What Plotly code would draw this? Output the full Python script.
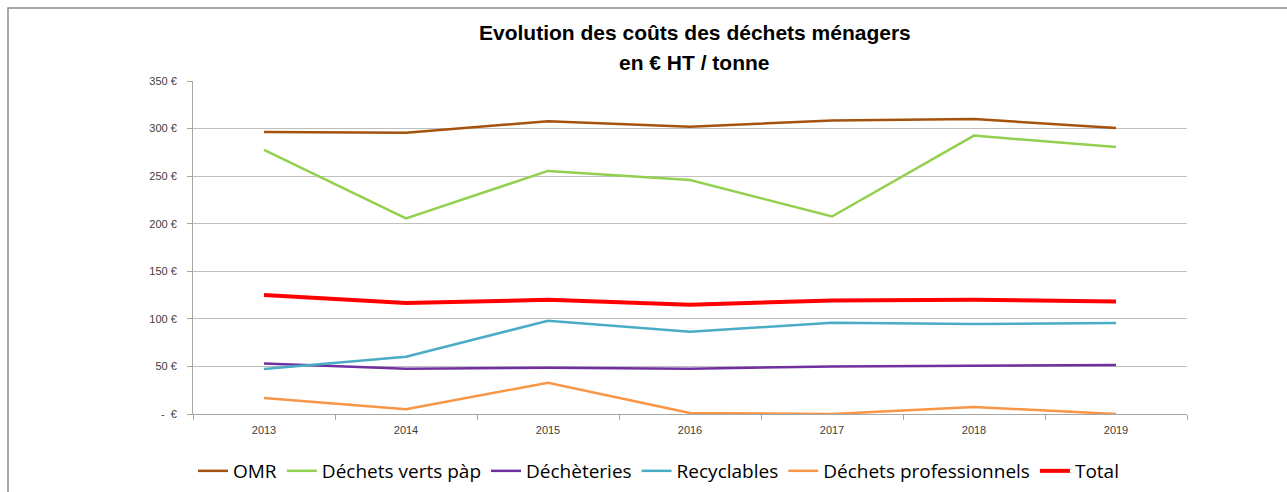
import plotly.graph_objects as go

# Années et coûts par filière (€ HT / tonne)
annees = ["2013", "2014", "2015", "2016", "2017", "2018", "2019"]
omr = [296.5, 295.5, 307.8, 302, 308.4, 310, 300.5]
dechets_verts = [277.6, 205.5, 255.5, 246, 207.6, 292.6, 280.5]
decheteries = [53.2, 47.6, 48.6, 47.6, 50, 50.7, 51.5]
recyclables = [47.3, 60.2, 98, 86.4, 95.9, 94.5, 95.6]
dechets_pro = [16.8, 4.9, 32.9, 1, 0, 7.4, 0]
total = [125, 116.6, 120, 114.8, 119.3, 120, 118.3]

y_ticks = [0, 50, 100, 150, 200, 250, 300, 350]
y_labels = ["-  €", "50 €", "100 €", "150 €", "200 €", "250 €", "300 €", "350 €"]

series = [
    ("OMR", omr, "#A5520F", 2.5),
    ("Déchets verts pàp", dechets_verts, "#92D050", 2.5),
    ("Déchèteries", decheteries, "#7030A0", 2.5),
    ("Recyclables", recyclables, "#4BACC6", 2.5),
    ("Déchets professionnels", dechets_pro, "#F79646", 2.5),
    ("Total", total, "#FF0000", 4),
]

fig = go.Figure()
for name, values, color, width in series:
    fig.add_trace(go.Scatter(
        x=annees, y=values, name=name, mode="lines",
        line=dict(color=color, width=width),
    ))

font_family = "Liberation Sans Narrow, Liberation Sans, Arial"
plot_h = 333  # hauteur de la zone de tracé en pixels
plot_w = 994  # largeur de la zone de tracé en pixels

fig.update_layout(
    width=1287, height=492,
    margin=dict(l=193, r=100, t=81, b=78, autoexpand=False),
    paper_bgcolor="white", plot_bgcolor="white",
    font=dict(family=font_family, color="#404040"),
    showlegend=True,
    legend=dict(
        orientation="h", x=0.0, xanchor="left",
        y=-(452 - 414) / plot_h, yanchor="top",
        font=dict(size=19, color="#000000", family="Open Sans"),
        itemwidth=30, traceorder="normal",
    ),
    shapes=[dict(
        type="rect", xref="paper", yref="paper",
        x0=(8 - 193) / plot_w, x1=1.2,
        y0=-0.4, y1=1.0 + (81 - 8) / plot_h,
        line=dict(color="#8c8c8c", width=1.5),
    )],
)
fig.add_annotation(
    text="<b>Evolution des coûts des déchets ménagers</b>",
    xref="paper", yref="paper", x=0.505, y=1.0 + (81 - 32) / plot_h,
    yanchor="middle", showarrow=False,
    font=dict(size=21, color="#000000", family=font_family),
)
fig.add_annotation(
    text="<b>en € HT / tonne</b>",
    xref="paper", yref="paper", x=0.505, y=1.0 + (81 - 62) / plot_h,
    yanchor="middle", showarrow=False,
    font=dict(size=21, color="#000000", family=font_family),
)

fig.update_xaxes(
    type="category", range=[-0.5, 6.5],
    showline=True, linecolor="#a6a6a6", linewidth=1,
    ticks="outside", ticklen=5, tickcolor="#a6a6a6",
    tickson="boundaries", showgrid=False,
    ticklabelstandoff=6,
    tickfont=dict(size=11, color="#404040", family=font_family),
)
fig.update_yaxes(
    range=[0, 350], tickvals=y_ticks, ticktext=y_labels,
    showline=True, linecolor="#a6a6a6", linewidth=1,
    ticks="outside", ticklen=5, tickcolor="#a6a6a6",
    showgrid=True, gridcolor="#bfbfbf", gridwidth=1,
    zeroline=False, ticklabelstandoff=8,
    tickfont=dict(size=11, color="#404040", family=font_family),
)

fig.write_html("out.html")
